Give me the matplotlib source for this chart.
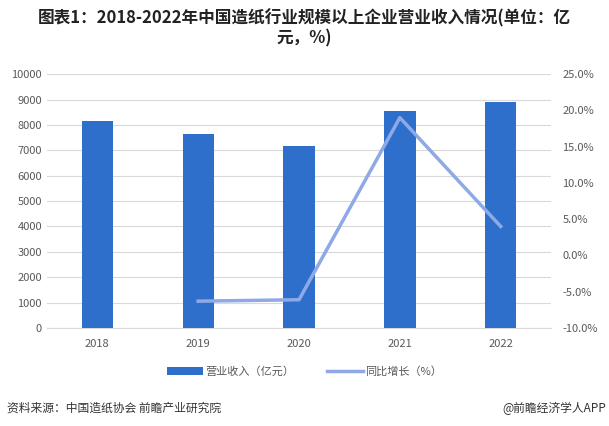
import matplotlib
matplotlib.use("Agg")
import matplotlib.pyplot as plt
import numpy as np
from matplotlib.ticker import FuncFormatter

plt.rcParams["font.family"] = ["Noto Sans CJK SC", "DejaVu Sans"]

years = ["2018", "2019", "2020", "2021", "2022"]
revenue = [8150, 7640, 7165, 8545, 8895]
growth_years = ["2019", "2020", "2021", "2022"]
growth = [-6.3, -6.1, 19.0, 4.0]

bar_color = "#2E6FCB"
line_color = "#8EA9E6"
tick_color = "#595959"

fig = plt.figure(figsize=(6.09, 4.26), dpi=100)
ax = fig.add_axes([0.077, 0.23, 0.828, 0.596])
x = np.arange(len(years))
bars = ax.bar(x, revenue, width=0.31, color=bar_color, zorder=3, label="营业收入（亿元）")
ax.set_xlim(-0.5, len(years) - 0.5)
ax.set_ylim(0, 10000)
ax.set_yticks(range(0, 10001, 1000))
ax.set_xticks(x)
ax.set_xticklabels(years)
ax.grid(axis="y", color="#D9D9D9", linewidth=0.8, zorder=0)
for s in ["top", "right", "left"]:
    ax.spines[s].set_visible(False)
ax.spines["bottom"].set_color("#D9D9D9")
ax.tick_params(axis="both", length=0, colors=tick_color, labelsize=8)
ax.tick_params(axis="x", pad=8)

ax2 = ax.twinx()
gx = [years.index(y) for y in growth_years]
line, = ax2.plot(gx, growth, color=line_color, linewidth=2.5, zorder=4, label="同比增长（%）")
ax2.set_ylim(-10, 25)
ax2.set_yticks(np.arange(-10, 25.1, 5))
ax2.yaxis.set_major_formatter(FuncFormatter(lambda v, p: f"{v:.1f}%"))
for s in ["top", "right", "left", "bottom"]:
    ax2.spines[s].set_visible(False)
ax2.tick_params(axis="y", length=0, colors=tick_color, labelsize=8, pad=8)

fig.text(0.5, 0.958, "图表1：2018-2022年中国造纸行业规模以上企业营业收入情况(单位：亿",
         ha="center", va="center", fontsize=12, fontweight="bold", color="#222222")
fig.text(0.5, 0.91, "元，%)", ha="center", va="center", fontsize=12,
         fontweight="bold", color="#222222")

fig.legend(handles=[bars, line], loc="center", bbox_to_anchor=(0.5, 0.127), ncol=2,
           frameon=False, fontsize=8, handlelength=3.2, columnspacing=3,
           handletextpad=0.2, labelcolor=tick_color)

fig.text(0.012, 0.042, "资料来源：中国造纸协会 前瞻产业研究院", ha="left", va="center",
         fontsize=8.5, color="#333333")
fig.text(0.995, 0.042, "@前瞻经济学人APP", ha="right", va="center",
         fontsize=8.5, color="#333333")

fig.savefig("out.png", dpi=100)
